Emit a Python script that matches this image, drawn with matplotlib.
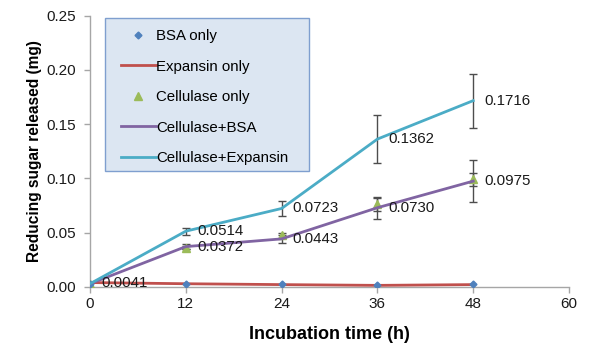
import matplotlib
matplotlib.use("Agg")
import matplotlib.pyplot as plt
from matplotlib.lines import Line2D
from matplotlib.patches import Rectangle

plt.rcParams['font.family'] = ['Liberation Sans', 'DejaVu Sans']

# Incubation time points (h)
hours = [0, 12, 24, 36, 48]

# Reducing sugar released (mg)
bsa_only = [0.0030, 0.0028, 0.0028, 0.0020, 0.0028]
expansin_only = [0.0041, 0.0030, 0.0022, 0.0015, 0.0022]
cellulase_only = [0.0030, 0.0362, 0.0475, 0.0760, 0.0990]
cellulase_only_err = [0.0, 0.0015, 0.0025, 0.0060, 0.0060]
cellulase_bsa = [0.0030, 0.0372, 0.0443, 0.0730, 0.0975]
cellulase_bsa_err = [0.0, 0.0020, 0.0040, 0.0100, 0.0195]
cellulase_expansin = [0.0030, 0.0514, 0.0723, 0.1362, 0.1716]
cellulase_expansin_err = [0.0, 0.0032, 0.0070, 0.0222, 0.0248]

# Value annotations: (hour, value)
value_labels = [
    (0, 0.0041),
    (12, 0.0514), (12, 0.0372),
    (24, 0.0723), (24, 0.0443),
    (36, 0.1362), (36, 0.0730),
    (48, 0.1716), (48, 0.0975),
]

xticks = [0, 12, 24, 36, 48, 60]
yticks = [0.00, 0.05, 0.10, 0.15, 0.20, 0.25]

c_blue = '#4f81bd'
c_red = '#c0504d'
c_green = '#9bbb59'
c_purple = '#8064a2'
c_cyan = '#4bacc6'
c_err = '#4d4d4d'
c_axis = '#a6a6a6'

W, H = 591, 344
fig = plt.figure(figsize=(W / 100, H / 100), dpi=100)
ax = fig.add_axes([90 / W, 1 - 287 / H, (569 - 90) / W, (287 - 15.5) / H])

err_kw = dict(fmt='none', ecolor=c_err, elinewidth=1.0, capsize=3, capthick=1.0, zorder=2)
ax.errorbar(hours[1:], cellulase_only[1:], yerr=cellulase_only_err[1:], **err_kw)
ax.errorbar(hours[1:], cellulase_bsa[1:], yerr=cellulase_bsa_err[1:], **err_kw)
ax.errorbar(hours[1:], cellulase_expansin[1:], yerr=cellulase_expansin_err[1:], **err_kw)

ax.plot(hours, expansin_only, color=c_red, lw=2.0, zorder=3, solid_capstyle='butt')
ax.plot(hours, bsa_only, ls='none', marker='D', ms=3.5, color=c_blue, zorder=4)
ax.plot(hours, cellulase_only, ls='none', marker='^', ms=5.5, color=c_green, zorder=3)
ax.plot(hours, cellulase_bsa, color=c_purple, lw=2.0, zorder=4)
ax.plot(hours, cellulase_expansin, color=c_cyan, lw=2.0, zorder=4)

for h, v in value_labels:
    ax.text(h + 1.4, v, f'{v:.4f}', ha='left', va='center', fontsize=10.8,
            color='#1a1a1a', zorder=5)

ax.set_xlim(0, 60)
ax.set_ylim(0, 0.25)
ax.set_xticks(xticks)
ax.set_yticks(yticks)
ax.set_yticklabels([f'{t:.2f}' for t in yticks])
ax.tick_params(axis='both', labelsize=11, colors=c_axis, labelcolor='#1a1a1a',
               length=4, width=1.0)
ax.tick_params(axis='y', pad=6)
ax.tick_params(axis='x', pad=3)
for side in ('top', 'right'):
    ax.spines[side].set_visible(False)
for side in ('left', 'bottom'):
    ax.spines[side].set_color(c_axis)
    ax.spines[side].set_linewidth(1.0)
ax.set_facecolor('none')

ax.set_xlabel('Incubation time (h)', fontsize=13, fontweight='bold', labelpad=11)
ax.set_ylabel('Reducing sugar released (mg)', fontsize=11.2, fontweight='bold', labelpad=3)

# Legend box
fig.patches.append(Rectangle((105 / W, 1 - 171 / H), (309 - 105) / W, (171 - 18) / H,
                             transform=fig.transFigure, facecolor='#dce6f2',
                             edgecolor='#7f9fcf', linewidth=1.0, zorder=0))

handles = [
    Line2D([], [], ls='none', marker='D', ms=3.5, color=c_blue),
    Line2D([], [], color=c_red, lw=2.0),
    Line2D([], [], ls='none', marker='^', ms=5.5, color=c_green),
    Line2D([], [], color=c_purple, lw=2.0),
    Line2D([], [], color=c_cyan, lw=2.0),
]
labels = ['BSA only', 'Expansin only', 'Cellulase only', 'Cellulase+BSA', 'Cellulase+Expansin']
leg = fig.legend(handles, labels, loc='upper left',
                 bbox_to_anchor=(121 / W, 1 - 29 / H),
                 fontsize=10.8, frameon=False,
                 handlelength=2.3, handletextpad=0.05, borderpad=0,
                 labelspacing=1.1, borderaxespad=0)

fig.savefig('out.png', dpi=100)
